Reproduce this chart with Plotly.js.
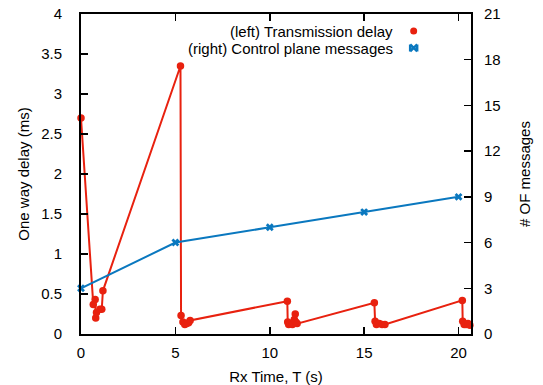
<!DOCTYPE html>
<html>
<head>
<meta charset="utf-8">
<script src="https://cdn.plot.ly/plotly-3.0.1.min.js"></script>
<style>html,body{margin:0;padding:0;background:#fff;}#chart{width:543px;height:385px;}</style>
</head>
<body>
<div id="chart"></div>
<script>
// Transmission delay (left axis, ms)
var delayTime = [0, 0.65, 0.75, 0.78, 0.82, 1.0, 1.1, 1.16, 5.27, 5.3, 5.4, 5.5, 5.6, 5.7, 5.78,
  10.93, 10.95, 11.0, 11.1, 11.2, 11.3, 11.35, 11.38, 11.45,
  15.54, 15.58, 15.65, 15.8, 15.95, 16.1,
  20.2, 20.22, 20.3, 20.4, 20.5, 20.6];
var delayMs = [2.7, 0.37, 0.43, 0.2, 0.27, 0.31, 0.31, 0.54, 3.35, 0.23, 0.15, 0.12, 0.13, 0.14, 0.17,
  0.41, 0.15, 0.12, 0.13, 0.12, 0.18, 0.25, 0.15, 0.13,
  0.39, 0.16, 0.12, 0.13, 0.12, 0.12,
  0.42, 0.16, 0.12, 0.12, 0.13, 0.11];
// Control plane messages (right axis)
var msgTime = [0, 5, 10, 15, 20];
var msgCount = [3, 6, 7, 8, 9];

var leftTicks = [0, 0.5, 1, 1.5, 2, 2.5, 3, 3.5, 4];
var rightTicks = [0, 3, 6, 9, 12, 15, 18, 21];
var xTicks = [0, 5, 10, 15, 20];
var legendLabels = ['(left) Transmission delay', '(right) Control plane messages'];
var xTitle = 'Rx Time, T (s)';
var yTitle = 'One way delay (ms)';
var y2Title = '# OF messages';

var RED = '#e8210f';
var BLUE = '#0a78bf';
var FONT = 'Liberation Sans, Arial, sans-serif';

var traces = [
  {x: delayTime, y: delayMs, type: 'scatter', mode: 'lines+markers', yaxis: 'y',
   line: {color: RED, width: 2}, marker: {color: RED, size: 7.5, symbol: 'circle'},
   cliponaxis: false, showlegend: false, name: legendLabels[0]},
  {x: msgTime, y: msgCount, type: 'scatter', mode: 'lines+markers', yaxis: 'y2',
   line: {color: BLUE, width: 2}, marker: {color: BLUE, size: 7, symbol: 'x'},
   cliponaxis: false, showlegend: false, name: legendLabels[1]}
];

var axBase = {showline: true, linecolor: '#000', linewidth: 2, ticks: 'inside', ticklen: 7,
  tickwidth: 1.5, tickcolor: '#000', showgrid: false, zeroline: false,
  tickfont: {family: FONT, size: 15, color: '#000'}};

var layout = {
  width: 543, height: 385,
  margin: {l: 81, r: 72, t: 14, b: 51},
  paper_bgcolor: '#fff', plot_bgcolor: '#fff',
  font: {family: FONT, size: 15, color: '#000'},
  xaxis: Object.assign({}, axBase, {range: [0, 20.66], tickvals: xTicks, mirror: 'ticks',
    ticklabelstandoff: 4,
    title: {text: xTitle, font: {family: FONT, size: 15}, standoff: 11}}),
  yaxis: Object.assign({}, axBase, {range: [0, 4], tickvals: leftTicks, ticklabelstandoff: 14,
    title: {text: yTitle, font: {family: FONT, size: 15}, standoff: 8}}),
  yaxis2: Object.assign({}, axBase, {range: [0, 21], tickvals: rightTicks, overlaying: 'y', side: 'right',
    ticklabelstandoff: 8,
    title: {text: y2Title, font: {family: FONT, size: 15}, standoff: 20}}),
  annotations: [
    {xref: 'paper', yref: 'paper', x: 0.805, y: 0.945, xanchor: 'right', yanchor: 'middle',
     text: legendLabels[0], showarrow: false, font: {family: FONT, size: 15, color: '#000'}},
    {xref: 'paper', yref: 'paper', x: 0.805, y: 0.892, xanchor: 'right', yanchor: 'middle',
     text: legendLabels[1], showarrow: false, font: {family: FONT, size: 15, color: '#000'}}
  ],
  shapes: [
    {type: 'circle', xref: 'paper', yref: 'paper', xsizemode: 'pixel', ysizemode: 'pixel',
     xanchor: 0.853, yanchor: 0.947, x0: -3.5, x1: 3.5, y0: -3.5, y1: 3.5,
     fillcolor: RED, line: {color: RED, width: 0}},
    {type: 'path', xref: 'paper', yref: 'paper', xsizemode: 'pixel', ysizemode: 'pixel',
     xanchor: 0.853, yanchor: 0.894,
     path: 'M -3.5 -3.5 L 3.5 3.5 M -3.5 3.5 L 3.5 -3.5 M -3.5 -3.5 L -3.5 3.5 M 3.5 -3.5 L 3.5 3.5',
     line: {color: BLUE, width: 2.5}}
  ]
};

Plotly.newPlot('chart', traces, layout, {staticPlot: true, displayModeBar: false});
</script>
</body>
</html>
